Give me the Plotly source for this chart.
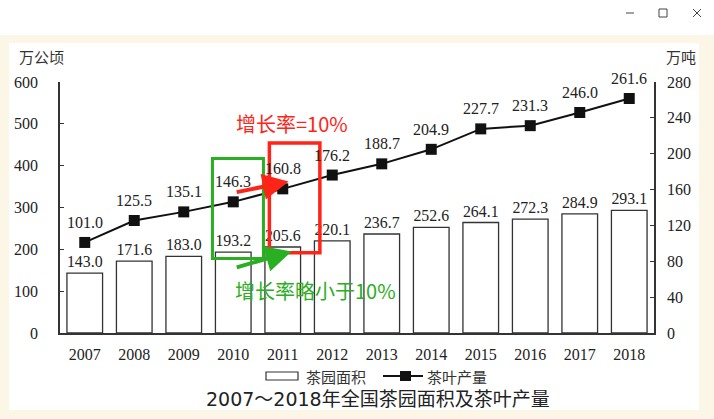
import plotly.graph_objects as go

years = [2007, 2008, 2009, 2010, 2011, 2012, 2013, 2014, 2015, 2016, 2017, 2018]
area = [143.0, 171.6, 183.0, 193.2, 205.6, 220.1, 236.7, 252.6, 264.1, 272.3, 284.9, 293.1]
production = [101.0, 125.5, 135.1, 146.3, 160.8, 176.2, 188.7, 204.9, 227.7, 231.3, 246.0, 261.6]
left_ticks = [0, 100, 200, 300, 400, 500, 600]
right_ticks = [0, 40, 80, 120, 160, 200, 240, 280]

W, H = 714, 419
L, R, T, B = 60, 654, 82, 333  # plot area pixel bounds


def px(x):
    return (x - L) / (R - L)


def py(y):
    return (B - y) / (B - T)


SERIF = "Liberation Serif, Times New Roman, serif"
CJK = "Noto Sans CJK SC, sans-serif"
INK = "#222222"

fig = go.Figure()
fig.add_trace(go.Bar(
    x=years, y=area, name="茶园面积",
    marker=dict(color="white", line=dict(color="#333333", width=1.3)),
    text=[f"{v:.1f}" for v in area], textposition="outside",
    textfont=dict(family=SERIF, size=16, color=INK),
    cliponaxis=False, width=0.72, yaxis="y",
))
fig.add_trace(go.Scatter(
    x=years, y=production, name="茶叶产量", mode="lines+markers",
    line=dict(color="#111111", width=2),
    marker=dict(symbol="square", size=11, color="#111111"),
    yaxis="y2", cliponaxis=False,
))

annotations = []
for x, v in zip(years, production):
    annotations.append(dict(x=x, y=v, xref="x", yref="y2", text=f"{v:.1f}",
                            showarrow=False, yshift=20,
                            font=dict(family=SERIF, size=16, color=INK)))

# axis unit titles
annotations.append(dict(x=px(17), y=py(56), xref="paper", yref="paper", text="万公顷",
                        showarrow=False, xanchor="left", yanchor="middle",
                        font=dict(family=CJK, size=15, color="#333333")))
annotations.append(dict(x=px(664), y=py(56), xref="paper", yref="paper", text="万吨",
                        showarrow=False, xanchor="left", yanchor="middle",
                        font=dict(family=CJK, size=15, color="#333333")))

# highlight texts and arrows
RED = "#ff2418"
GREEN = "#2aae22"
annotations.append(dict(x=4.18 + 2007, y=501, xref="x", yref="y", text="增长率=10%",
                        showarrow=False, font=dict(family=CJK, size=20, color=RED)))
annotations.append(dict(x=4.67 + 2007, y=101, xref="x", yref="y", text="增长率略小于10%",
                        showarrow=False, font=dict(family=CJK, size=20, color=GREEN)))
annotations.append(dict(x=4.12 + 2007, y=362, ax=3.04 + 2007, ay=336, xref="x", yref="y",
                        axref="x", ayref="y", text="", showarrow=True,
                        arrowhead=2, arrowsize=1.3, arrowwidth=4, arrowcolor=RED))
annotations.append(dict(x=4.18 + 2007, y=195, ax=3.04 + 2007, ay=156, xref="x", yref="y",
                        axref="x", ayref="y", text="", showarrow=True,
                        arrowhead=2, arrowsize=1.3, arrowwidth=4, arrowcolor=GREEN))

# legend (manual)
annotations.append(dict(x=px(304), y=py(376), xref="paper", yref="paper", text="茶园面积",
                        showarrow=False, xanchor="left", yanchor="middle",
                        font=dict(family=CJK, size=15, color="#333333")))
annotations.append(dict(x=px(425), y=py(376), xref="paper", yref="paper", text="茶叶产量",
                        showarrow=False, xanchor="left", yanchor="middle",
                        font=dict(family=CJK, size=15, color="#333333")))
# chart title
annotations.append(dict(x=px(378), y=py(399), xref="paper", yref="paper",
                        text="2007～2018年全国茶园面积及茶叶产量",
                        showarrow=False, xanchor="center", yanchor="middle",
                        font=dict(family="DejaVu Sans, Noto Sans CJK SC, sans-serif", size=19, color="#222222")))

shapes = [
    # window chrome: cream frame with white title strip and white inner panel
    dict(type="rect", xref="paper", yref="paper", x0=px(0), x1=px(W), y0=py(0), y1=py(35),
         fillcolor="white", line=dict(width=0), layer="below"),
    dict(type="rect", xref="paper", yref="paper", x0=px(9), x1=px(699), y0=py(43), y1=py(410),
         fillcolor="white", line=dict(width=0), layer="below"),
    # window buttons
    dict(type="line", xref="paper", yref="paper", x0=px(626), x1=px(634), y0=py(13), y1=py(13),
         line=dict(color="#444444", width=1)),
    dict(type="rect", xref="paper", yref="paper", x0=px(659), x1=px(667), y0=py(9), y1=py(17),
         line=dict(color="#444444", width=1)),
    dict(type="line", xref="paper", yref="paper", x0=px(693), x1=px(701), y0=py(9), y1=py(17),
         line=dict(color="#444444", width=1)),
    dict(type="line", xref="paper", yref="paper", x0=px(693), x1=px(701), y0=py(17), y1=py(9),
         line=dict(color="#444444", width=1)),
    # highlight boxes
    dict(type="rect", xref="x", yref="y", x0=2.58 + 2007, x1=3.61 + 2007, y0=178, y1=417,
         line=dict(color=GREEN, width=3)),
    dict(type="rect", xref="x", yref="y", x0=3.73 + 2007, x1=4.75 + 2007, y0=192, y1=454,
         line=dict(color=RED, width=3.5)),
    # legend symbols
    dict(type="rect", xref="paper", yref="paper", x0=px(266), x1=px(298), y0=py(372), y1=py(380),
         fillcolor="white", line=dict(color="#333333", width=1.2)),
    dict(type="line", xref="paper", yref="paper", x0=px(383), x1=px(423), y0=py(376), y1=py(376),
         line=dict(color="#111111", width=2)),
    dict(type="rect", xref="paper", yref="paper", x0=px(400), x1=px(411), y0=py(371), y1=py(381),
         fillcolor="#111111", line=dict(color="#111111", width=0)),
]

fig.update_layout(
    width=W, height=H,
    margin=dict(l=L, r=W - R, t=T, b=H - B, pad=0),
    paper_bgcolor="#fcf6e7", plot_bgcolor="white",
    showlegend=False, bargap=0.28, hovermode=False,
    annotations=annotations, shapes=shapes,
    xaxis=dict(range=[2006.5, 2018.5], tickvals=years, ticktext=[str(y) for y in years],
               showline=True, linecolor="#333333", linewidth=1.5, ticks="",
               showgrid=False, zeroline=False, ticklabelstandoff=6,
               tickfont=dict(family=SERIF, size=16, color=INK)),
    yaxis=dict(range=[0, 600], tickvals=left_ticks, showline=True, linecolor="#333333",
               linewidth=1.5, ticks="inside", ticklen=4, tickcolor="#333333",
               showgrid=False, zeroline=False, ticklabelstandoff=17,
               tickfont=dict(family=SERIF, size=16, color=INK)),
    yaxis2=dict(range=[0, 280], tickvals=right_ticks, overlaying="y", side="right",
                showline=True, linecolor="#333333", linewidth=1.5, ticks="inside",
                ticklen=4, tickcolor="#333333", showgrid=False, zeroline=False,
                ticklabelstandoff=8, tickfont=dict(family=SERIF, size=16, color=INK)),
)

fig.write_html("out.html", config={"displayModeBar": False},
               post_script="document.body.style.margin='0';")
